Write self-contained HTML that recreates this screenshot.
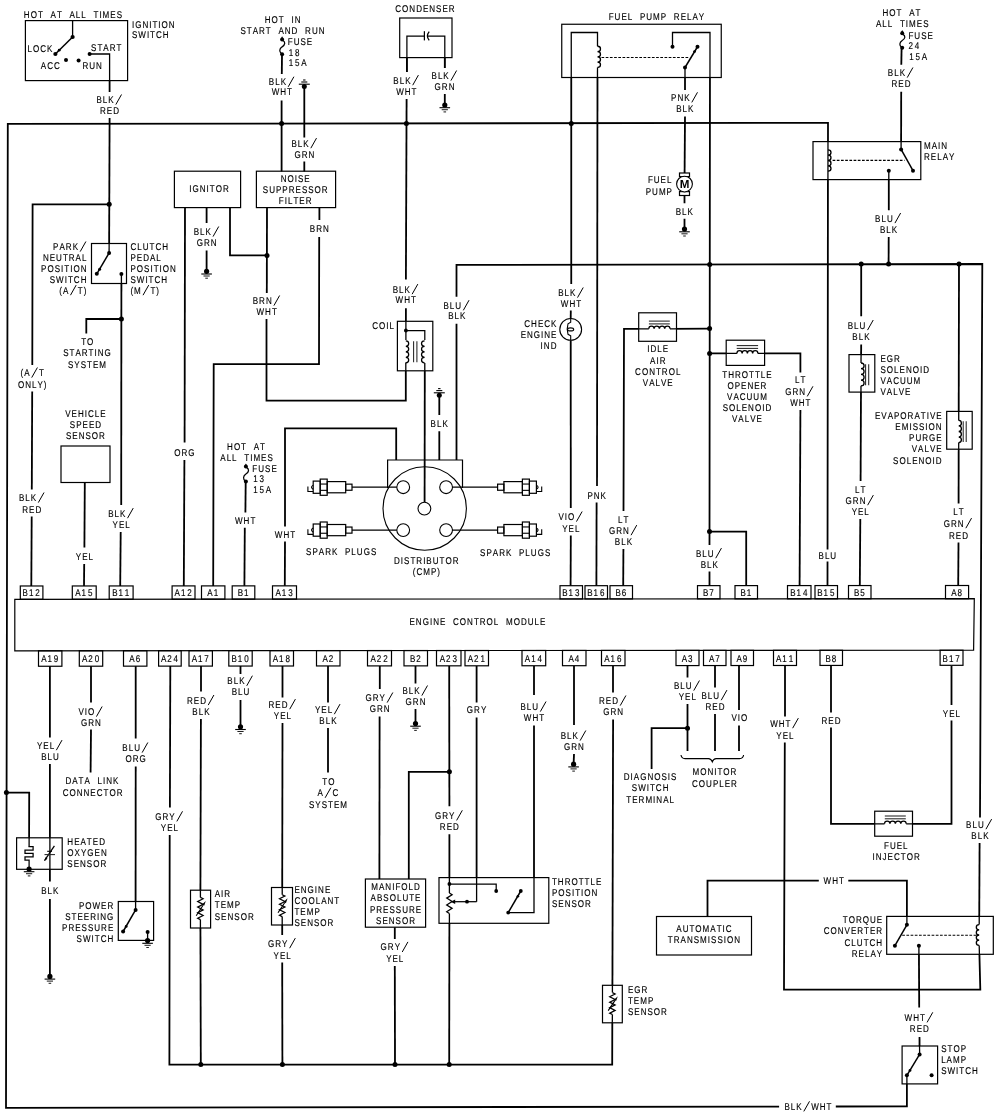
<!DOCTYPE html>
<html><head><meta charset="utf-8"><title>Engine Control Wiring Diagram</title>
<style>
html,body{margin:0;padding:0;background:#fff}
svg{display:block;will-change:transform}
text{font-family:"Liberation Sans",sans-serif;font-size:9.8px;fill:#000;stroke:#000;stroke-width:.15px;text-rendering:geometricPrecision}
.w{fill:none;stroke:#000;stroke-width:1.8;stroke-linejoin:miter;stroke-linecap:butt}
.b{fill:none;stroke:#000;stroke-width:1.2}
.t{fill:none;stroke:#000;stroke-width:1.1}
.t2{fill:none;stroke:#000;stroke-width:1.25}
.sl{fill:none;stroke:#000;stroke-width:1}
.c{fill:none;stroke:#222;stroke-width:1.05}
.a{fill:none;stroke:#000;stroke-width:1.5}
.d{fill:none;stroke:#000;stroke-width:1.1;stroke-dasharray:2.7 1.5}
circle{fill:#000}
.o{fill:#fff;stroke:#000;stroke-width:1.1}
</style></head><body>
<svg width="1000" height="1117" viewBox="0 0 1000 1117">
<rect width="1000" height="1117" fill="#fff"/>
<defs>
<clipPath id="ci"><path d="M25.4 20.6H127.6V80.6H25.4ZM174.4 171.2H240.6V207.6H174.4ZM256.4 171.2H335.6V207.6H256.4ZM399.7 18H452V57.6H399.7ZM561.75 24.25H721.25V77.5H561.75ZM813 141.6H920.8V179.6H813ZM91.5 243.5H126.5V283.5H91.5ZM61 446H110V482.5H61ZM397.4 321.3H432.8V370.8H397.4ZM638.7 312.8H676.5V341.3H638.7ZM726.2 340.2H764.6V365.4H726.2ZM849 354.6H874.8V392.1H849ZM946.7 411.4H972.2V449.2H946.7ZM20.3 585.98H42.9V599.28H20.3ZM72.3 585.96H96.2V599.25H72.3ZM109.2 585.94H133.1V599.22H109.2ZM172.1 585.9H195V599.19H172.1ZM201.5 585.89H224.9V599.17H201.5ZM232.2 585.87H254.8V599.15H232.2ZM272.5 585.85H296.5V599.12H272.5ZM560 585.7H582.5V598.94H560ZM585 585.69H607.5V598.93H585ZM610 585.68H632.5V598.91H610ZM697.5 585.63H720V598.86H697.5ZM735 585.61H757.5V598.83H735ZM787.5 585.58H811V598.8H787.5ZM815 585.57H837.5V598.78H815ZM848.5 585.55H871V598.76H848.5ZM945.5 585.5H968.6V598.7H945.5ZM14.8 599H974V650.6H14.8ZM38.5 650.77H61.9V666.25H38.5ZM79.3 650.74H102.7V666.21H79.3ZM123.5 650.72H146.9V666.16H123.5ZM158.6 650.69H181.2V666.12H158.6ZM189 650.67H212.4V666.09H189ZM228.8 650.65H252.2V666.05H228.8ZM270 650.62H293.5V666.01H270ZM316.5 650.59H340V665.96H316.5ZM367.5 650.56H391.5V665.9H367.5ZM404 650.54H427.5V665.87H404ZM436.5 650.52H461V665.83H436.5ZM465 650.5H488.5V665.8H465ZM522 650.47H545.7V665.74H522ZM562.5 650.44H586V665.7H562.5ZM601.5 650.42H625V665.66H601.5ZM676 650.37H699V665.58H676ZM703.5 650.35H726V665.56H703.5ZM731 650.34H753.5V665.53H731ZM773.5 650.31H796.5V665.48H773.5ZM820 650.28H842.5V665.43H820ZM940.1 650.21H963V665.31H940.1ZM16.6 837.8H62.2V869.3H16.6ZM118.3 901.5H153.6V940.4H118.3ZM190.5 890.2H210.6V928H190.5ZM271.5 887.5H292.5V925H271.5ZM365.4 879H425.6V927.2H365.4ZM439 877.6H548.8V923.3H439ZM602.5 985.3H622.3V1022.8H602.5ZM874.7 811.2H912.5V836.2H874.7ZM656.5 916.5H751.5V955H656.5ZM886.7 916.4H993.3V954.3H886.7ZM902.1 1046H937.6V1083.9H902.1Z"/></clipPath>
<clipPath id="co"><path clip-rule="evenodd" d="M0 0H1000V1117H0ZM25.4 20.6H127.6V80.6H25.4ZM174.4 171.2H240.6V207.6H174.4ZM256.4 171.2H335.6V207.6H256.4ZM399.7 18H452V57.6H399.7ZM561.75 24.25H721.25V77.5H561.75ZM813 141.6H920.8V179.6H813ZM91.5 243.5H126.5V283.5H91.5ZM61 446H110V482.5H61ZM397.4 321.3H432.8V370.8H397.4ZM638.7 312.8H676.5V341.3H638.7ZM726.2 340.2H764.6V365.4H726.2ZM849 354.6H874.8V392.1H849ZM946.7 411.4H972.2V449.2H946.7ZM20.3 585.98H42.9V599.28H20.3ZM72.3 585.96H96.2V599.25H72.3ZM109.2 585.94H133.1V599.22H109.2ZM172.1 585.9H195V599.19H172.1ZM201.5 585.89H224.9V599.17H201.5ZM232.2 585.87H254.8V599.15H232.2ZM272.5 585.85H296.5V599.12H272.5ZM560 585.7H582.5V598.94H560ZM585 585.69H607.5V598.93H585ZM610 585.68H632.5V598.91H610ZM697.5 585.63H720V598.86H697.5ZM735 585.61H757.5V598.83H735ZM787.5 585.58H811V598.8H787.5ZM815 585.57H837.5V598.78H815ZM848.5 585.55H871V598.76H848.5ZM945.5 585.5H968.6V598.7H945.5ZM14.8 599H974V650.6H14.8ZM38.5 650.77H61.9V666.25H38.5ZM79.3 650.74H102.7V666.21H79.3ZM123.5 650.72H146.9V666.16H123.5ZM158.6 650.69H181.2V666.12H158.6ZM189 650.67H212.4V666.09H189ZM228.8 650.65H252.2V666.05H228.8ZM270 650.62H293.5V666.01H270ZM316.5 650.59H340V665.96H316.5ZM367.5 650.56H391.5V665.9H367.5ZM404 650.54H427.5V665.87H404ZM436.5 650.52H461V665.83H436.5ZM465 650.5H488.5V665.8H465ZM522 650.47H545.7V665.74H522ZM562.5 650.44H586V665.7H562.5ZM601.5 650.42H625V665.66H601.5ZM676 650.37H699V665.58H676ZM703.5 650.35H726V665.56H703.5ZM731 650.34H753.5V665.53H731ZM773.5 650.31H796.5V665.48H773.5ZM820 650.28H842.5V665.43H820ZM940.1 650.21H963V665.31H940.1ZM16.6 837.8H62.2V869.3H16.6ZM118.3 901.5H153.6V940.4H118.3ZM190.5 890.2H210.6V928H190.5ZM271.5 887.5H292.5V925H271.5ZM365.4 879H425.6V927.2H365.4ZM439 877.6H548.8V923.3H439ZM602.5 985.3H622.3V1022.8H602.5ZM874.7 811.2H912.5V836.2H874.7ZM656.5 916.5H751.5V955H656.5ZM886.7 916.4H993.3V954.3H886.7ZM902.1 1046H937.6V1083.9H902.1Z"/></clipPath>
<g id="wr">
<path d="M779.2 1106.6L6 1107.8L7.8 123.9L828 122.8L827.5 586"/>
<path d="M72.6 20.6L72.6 37"/>
<path d="M89.6 54L109.6 54L109.6 92"/>
<path d="M109.6 118L109.1 253"/>
<path d="M109.4 204.4L32.6 204.4L32.3 365"/>
<path d="M32.2 391.5L31.8 489.5"/>
<path d="M31.7 516.5L31.3 586"/>
<path d="M282 54.2L281.8 74"/>
<path d="M281.6 100.5L281.6 171.5"/>
<path d="M304.3 86.6L304.3 137.5"/>
<path d="M304.3 161.5L304.3 171.5"/>
<path d="M185 207.5L184.6 442.5"/>
<path d="M184.4 460L183.8 586"/>
<path d="M206.6 207.5L206.6 223"/>
<path d="M206.6 250.4L206.6 271.3"/>
<path d="M230 207.5L230 255.4L267 255.4"/>
<path d="M267 207.5L266.8 293"/>
<path d="M266.5 319L266.5 400.7L405.8 400.7L405.8 362.4"/>
<path d="M319.4 207.5L319.4 220"/>
<path d="M319.2 237L319 364.2L213.7 364.2L213.2 586"/>
<path d="M406.9 57.6L406.9 72"/>
<path d="M444.8 57.6L444.8 68"/>
<path d="M406.6 99L405.9 279.4"/>
<path d="M444.8 94L444.8 105"/>
<path d="M405.9 308.2L405.9 340"/>
<path d="M571.25 284L571.25 32.5L597.5 32.5L597.5 46.25"/>
<path d="M597.5 46.25c3.99 0 3.99 5.31 0 5.31c3.99 0 3.99 5.31 0 5.31c3.99 0 3.99 5.31 0 5.31c3.99 0 3.99 5.31 0 5.31"/>
<path d="M597.5 67.5L597 486"/>
<path d="M596.6 502.5L596.4 586"/>
<path d="M672.5 46.75L672.5 32.5L710 32.5L709.5 545"/>
<path d="M685 67.5L685 90"/>
<path d="M685 116.5L684.6 173"/>
<path d="M684.5 195.5L684.5 203.3"/>
<path d="M684.5 218.7L684.5 229.1"/>
<path d="M901.6 47.7L901.3 64.8"/>
<path d="M901.2 91.7L901.1 149.4"/>
<path d="M828 149.9c3.99 0 3.99 5.3 0 5.3c3.99 0 3.99 5.3 0 5.3c3.99 0 3.99 5.3 0 5.3c3.99 0 3.99 5.3 0 5.3"/>
<path d="M888.8 170.7L888.8 210.3"/>
<path d="M888.7 237L888.6 264"/>
<path d="M456.5 296.7L456.5 264.9L982.3 264L980 817.5"/>
<path d="M121.4 274L121.2 505"/>
<path d="M121.4 319L86.3 319L86.3 333.5"/>
<path d="M120.7 532L120.2 586"/>
<path d="M84.8 482.5L84.4 547.5"/>
<path d="M84.2 564L84 586"/>
<path d="M245.7 481.5L245.4 512.5"/>
<path d="M244.8 527.8L244.4 586"/>
<path d="M285 526.5L285 428.4L396.2 428.4L396.2 460"/>
<path d="M285 541.5L284.8 586"/>
<path d="M424.8 363L424.6 502"/>
<path d="M439.3 395.2L439.3 415"/>
<path d="M439.3 431.2L439.3 460"/>
<path d="M456.5 323.8L456.5 460"/>
<path d="M570.8 310.5L570.7 318.3"/>
<path d="M570.7 340.6L570.8 508"/>
<path d="M570.8 535.5L570.6 586"/>
<path d="M623.5 511L624 328.8L648.8 328.8"/>
<path d="M648.8 328.8c0 -3.59 5.3 -3.59 5.3 0c0 -3.59 5.3 -3.59 5.3 0c0 -3.59 5.3 -3.59 5.3 0c0 -3.59 5.3 -3.59 5.3 0"/>
<path d="M670 328.8L709.6 328.6"/>
<path d="M623.4 549L623.2 586"/>
<path d="M709.6 353.4L736.9 353.4"/>
<path d="M736.9 353.4c0 -3.59 5.25 -3.59 5.25 0c0 -3.59 5.25 -3.59 5.25 0c0 -3.59 5.25 -3.59 5.25 0c0 -3.59 5.25 -3.59 5.25 0"/>
<path d="M757.9 353.4L800.4 353.4L800.4 372.5"/>
<path d="M800.4 410L799.6 586"/>
<path d="M709.5 531.6L746.2 531.6L746.2 586"/>
<path d="M709.5 571.5L709.5 586"/>
<path d="M861.2 264L861.2 316.3"/>
<path d="M861.2 344.5L861 363"/>
<path d="M861 363c4.12 0 4.12 5.7 0 5.7c4.12 0 4.12 5.7 0 5.7c4.12 0 4.12 5.7 0 5.7c4.12 0 4.12 5.7 0 5.7"/>
<path d="M861 385.8L860.6 481"/>
<path d="M860.3 519L859.8 586"/>
<path d="M959 264L958.7 420.4"/>
<path d="M958.7 420.4c3.59 0 3.59 5.55 0 5.55c3.59 0 3.59 5.55 0 5.55c3.59 0 3.59 5.55 0 5.55c3.59 0 3.59 5.55 0 5.55"/>
<path d="M958.7 442.6L958.6 503.5"/>
<path d="M958.5 542.5L958.2 586"/>
<path d="M49.9 666L49.9 737.5"/>
<path d="M49.9 764L49.9 881.5"/>
<path d="M6.4 792.6L29.2 792.6L29.1 846.5"/>
<path d="M49.9 899L49.9 976.4"/>
<path d="M91 666L91 702.5"/>
<path d="M91 729.5L90.6 772.4"/>
<path d="M135.7 666L135.7 738.5"/>
<path d="M135.7 766.5L135.6 909.9"/>
<path d="M147.6 932L147.6 940.4"/>
<path d="M170.3 666L169.9 807.5"/>
<path d="M169.7 835L169.4 1064.6L612.2 1064.6L612.3 1022.5"/>
<path d="M201 666L201 691.5"/>
<path d="M200.9 719L200.4 897.4"/>
<path d="M200.4 919.6L200.8 1064.6"/>
<path d="M240.5 666L240.5 674"/>
<path d="M240.5 700L240.5 726.8"/>
<path d="M282.5 666L282.5 697.5"/>
<path d="M282.5 723L282.2 894.7"/>
<path d="M282.2 916.6L282.2 935"/>
<path d="M282.2 962.5L282.4 1064.6"/>
<path d="M328 666L328 702.5"/>
<path d="M328 728L328 772.5"/>
<path d="M379.8 666L379.8 689"/>
<path d="M379.6 716.5L379.4 879"/>
<path d="M394.8 927.2L394.8 939"/>
<path d="M394.8 966L395 1064.6"/>
<path d="M415.5 666L415.5 683.5"/>
<path d="M415.5 709L415.5 723.5"/>
<path d="M449.2 666L449.4 806.2"/>
<path d="M449.4 771.8L408.8 771.8L408.8 879"/>
<path d="M449.4 834.2L449.4 893"/>
<path d="M449.4 913.5L449.2 1064.6"/>
<path d="M476.6 666L476.6 702.5"/>
<path d="M476.6 717.5L476.6 901.7"/>
<path d="M534 666L534 695"/>
<path d="M534 725.5L534 912.6L508.2 912.6"/>
<path d="M574 666L574 725"/>
<path d="M574 754L573.6 764.2"/>
<path d="M613 666L613 692.5"/>
<path d="M613.1 719.5L612.4 992.6"/>
<path d="M612.4 1014.5L612.3 1023"/>
<path d="M687.5 666L687.5 677.5"/>
<path d="M687.5 704L687.5 751"/>
<path d="M687.5 728.2L651.6 728.2L651.6 769"/>
<path d="M715 666L715 687.5"/>
<path d="M715 714L715 751"/>
<path d="M739 666L739 710"/>
<path d="M739 725.5L739 751"/>
<path d="M785 666L785 716.5"/>
<path d="M784.8 742.5L784 989.6L980.3 989.6L979.2 945.4"/>
<path d="M831 666L831 712.5"/>
<path d="M831 727.5L831 823.8L884.5 823.8"/>
<path d="M884.5 823.8c0 -3.59 5.43 -3.59 5.43 0c0 -3.59 5.43 -3.59 5.43 0c0 -3.59 5.43 -3.59 5.43 0c0 -3.59 5.43 -3.59 5.43 0"/>
<path d="M906.2 823.8L951.5 823.8L951.5 720.5"/>
<path d="M951.5 666L951.5 705"/>
<path d="M979.6 843L979.2 924.6"/>
<path d="M979.2 924.6c-3.86 0 -3.86 5.2 0 5.2c-3.86 0 -3.86 5.2 0 5.2c-3.86 0 -3.86 5.2 0 5.2c-3.86 0 -3.86 5.2 0 5.2"/>
<path d="M707.5 916.5L707.5 880.6L818.8 880.6"/>
<path d="M848.3 880.6L906.9 880.6L906.9 924.8"/>
<path d="M918.9 945.7L919.2 1007.6"/>
<path d="M919.5 1037L919.6 1054.4"/>
<path d="M906.9 1075.3L906.9 1106.4L835.6 1106.5"/>
</g>
</defs>
<g class="w" clip-path="url(#co)"><use href="#wr"/></g>
<g class="w" style="stroke-width:1.3" clip-path="url(#ci)"><use href="#wr"/></g>
<circle cx="6.4" cy="792.5" r="2.5"/>
<text transform="translate(23.86 17.5) scale(0.82 1)" x="0 8.3 17.14 32.52 40.27 55.65 63.4 70.07 84.91 92.12 96.06 105.45 113.2">HOTATALLTIMES</text>
<rect class="b" x="25.4" y="20.6" width="102.2" height="60"/>
<text transform="translate(131.95 27.7) scale(0.82 1)" x="0 3.94 12.78 21.08 25.02 32.23 36.17 45.01">IGNITION</text>
<text transform="translate(131.95 38.2) scale(0.82 1)" x="0 7.76 18.23 22.17 29.37 37.67">SWITCH</text>
<circle cx="72.6" cy="37" r="2.1"/>
<path class="a" d="M72.6 37L55.4 54"/>
<circle cx="55.4" cy="54" r="2.1"/>
<circle cx="59.2" cy="50.2" r="1.4"/>
<circle cx="66" cy="60" r="2"/>
<circle cx="78.6" cy="60.4" r="2"/>
<circle cx="89.6" cy="54" r="2"/>
<text transform="translate(27.45 52.4) scale(0.82 1)" x="0 6.67 15.51 23.81">LOCK</text>
<text transform="translate(91.05 51) scale(0.82 1)" x="0 7.76 14.96 22.72 31.01">START</text>
<text transform="translate(40.85 68.6) scale(0.82 1)" x="0 7.76 16.05">ACC</text>
<text transform="translate(82.45 69) scale(0.82 1)" x="0 8.3 16.59">RUN</text>
<path class="sl" d="M115.82 104.6L121.52 94.5"/>
<text transform="translate(96.43 103) scale(0.82 1)" x="0 7.76 14.43">BLK</text>
<text transform="translate(99.97 113.8) scale(0.82 1)" x="0 8.3 16.05">RED</text>
<circle cx="109.2" cy="204.3" r="2.5"/>
<path class="sl" d="M31.71 377.6L37.41 367.5"/>
<text transform="translate(20.48 376) scale(0.82 1)" x="0 4.48 22.73">(AT</text>
<text transform="translate(17.97 387.5) scale(0.82 1)" x="0 8.84 17.14 23.81 31.56">ONLY)</text>
<path class="sl" d="M38.32 502.6L44.02 492.5"/>
<text transform="translate(18.93 501) scale(0.82 1)" x="0 7.76 14.43">BLK</text>
<text transform="translate(22.27 512.5) scale(0.82 1)" x="0 8.3 16.05">RED</text>
<text transform="translate(264.8 22.6) scale(0.82 1)" x="0 8.3 17.14 32.52 36.46">HOTIN</text>
<text transform="translate(240.39 33.6) scale(0.82 1)" x="0 7.76 14.96 22.72 31.01 46.39 54.15 62.44 78.91 87.21 95.51">STARTANDRUN</text>
<circle cx="282.1" cy="39.4" r="2"/>
<circle cx="282.1" cy="54.2" r="2"/>
<path d="M280.9 38.4L282.1 36.2L283.3 38.4z"/>
<path class="t2" d="M282.7 40.2c3 1.78 2.6 4.59 -0.6 6.66c-3 2.07 -3 4.88 -0.6 6.96"/>
<text transform="translate(287.75 45.1) scale(0.82 1)" x="0 7.21 15.5 23.26">FUSE</text>
<text transform="translate(288.65 56) scale(0.82 1)" x="0 7.65">18</text>
<text transform="translate(288.65 66.1) scale(0.82 1)" x="0 7.65 15.3">15A</text>
<path class="sl" d="M288.22 86.8L293.92 76.7"/>
<text transform="translate(268.83 85.2) scale(0.82 1)" x="0 7.76 14.43">BLK</text>
<text transform="translate(271.7 95.4) scale(0.82 1)" x="0 10.47 18.77">WHT</text>
<circle cx="281.6" cy="123.5" r="2.5"/>
<circle cx="304.3" cy="86.6" r="2.5"/>
<path class="t" d="M298.8 84.2L309.8 84.2"/>
<path class="t" d="M301.3 82L307.3 82"/>
<path class="t" d="M303.1 80L305.5 80"/>
<path class="sl" d="M310.82 148.2L316.52 138.1"/>
<text transform="translate(291.43 146.6) scale(0.82 1)" x="0 7.76 14.43">BLK</text>
<text transform="translate(294.52 157.6) scale(0.82 1)" x="0 8.84 17.14">GRN</text>
<rect class="b" x="174.4" y="171.2" width="66.2" height="36.4"/>
<text transform="translate(189.21 192.4) scale(0.82 1)" x="0 3.94 12.78 21.08 25.02 32.23 41.07">IGNITOR</text>
<rect class="b" x="256.4" y="171.2" width="79.2" height="36.4"/>
<text transform="translate(280.65 182) scale(0.82 1)" x="0 8.3 17.14 21.08 28.84">NOISE</text>
<text transform="translate(262.84 193) scale(0.82 1)" x="0 7.76 16.05 23.81 31.57 39.86 47.62 55.37 63.13 71.97">SUPPRESSOR</text>
<text transform="translate(278.81 203.7) scale(0.82 1)" x="0 7.21 11.15 17.82 25.02 32.78">FILTER</text>
<text transform="translate(174.3 456) scale(0.82 1)" x="0 8.84 17.14">ORG</text>
<path class="sl" d="M213.02 236.6L218.72 226.5"/>
<text transform="translate(193.63 235) scale(0.82 1)" x="0 7.76 14.43">BLK</text>
<text transform="translate(196.82 246) scale(0.82 1)" x="0 8.84 17.14">GRN</text>
<circle cx="206.6" cy="271.3" r="2.6"/>
<path class="t" d="M201.3 274L211.9 274"/>
<path class="c" d="M203.5 276L209.7 276"/>
<path class="c" d="M205.3 278.2L207.9 278.2"/>
<circle cx="267" cy="255.4" r="2.5"/>
<path class="sl" d="M273.91 305.6L279.61 295.5"/>
<text transform="translate(252.74 304) scale(0.82 1)" x="0 7.76 16.05">BRN</text>
<text transform="translate(256.5 315) scale(0.82 1)" x="0 10.47 18.77">WHT</text>
<text transform="translate(309.87 231.7) scale(0.82 1)" x="0 7.76 16.05">BRN</text>
<text transform="translate(395.28 11.6) scale(0.82 1)" x="0 8.3 17.14 25.44 33.73 41.49 49.79 57.54 65.3">CONDENSER</text>
<rect class="b" x="399.7" y="18" width="52.3" height="39.6"/>
<path class="t2" d="M406.9 72L406.9 36L424 36"/>
<path class="t2" d="M424.4 31.2L424.4 40.4"/>
<path class="t2" d="M429.2 31.6Q425.6 36 429.2 40.4"/>
<path class="t2" d="M427.5 36L444.8 36L444.8 68"/>
<path class="sl" d="M412.72 85.2L418.42 75.1"/>
<text transform="translate(393.33 83.6) scale(0.82 1)" x="0 7.76 14.43">BLK</text>
<text transform="translate(396.2 95) scale(0.82 1)" x="0 10.47 18.77">WHT</text>
<circle cx="406.4" cy="123.4" r="2.5"/>
<path class="sl" d="M450.92 80.6L456.62 70.5"/>
<text transform="translate(431.53 79) scale(0.82 1)" x="0 7.76 14.43">BLK</text>
<text transform="translate(434.62 90) scale(0.82 1)" x="0 8.84 17.14">GRN</text>
<circle cx="444.8" cy="105" r="2.6"/>
<path class="t" d="M439.5 107.7L450.1 107.7"/>
<path class="c" d="M441.7 109.7L447.9 109.7"/>
<path class="c" d="M443.5 111.9L446.1 111.9"/>
<path class="sl" d="M412.12 294.2L417.82 284.1"/>
<text transform="translate(392.73 292.6) scale(0.82 1)" x="0 7.76 14.43">BLK</text>
<text transform="translate(395.6 303.2) scale(0.82 1)" x="0 10.47 18.77">WHT</text>
<text transform="translate(608.69 19.5) scale(0.82 1)" x="0 7.21 15.5 23.26 38.1 45.86 54.15 63.54 79.46 87.76 95.51 102.18 109.94">FUELPUMPRELAY</text>
<rect class="b" x="561.75" y="24.25" width="159.5" height="53.25"/>
<text transform="translate(587.39 498.6) scale(0.82 1)" x="0 7.76 16.05">PNK</text>
<circle cx="571.25" cy="123.4" r="2.5"/>
<path class="d" d="M601.5 57.5L688.5 57.5"/>
<circle cx="672.5" cy="46.75" r="2"/>
<circle cx="697.5" cy="46.75" r="2"/>
<path class="a" d="M697.5 46.75L685 67.5"/>
<circle cx="685" cy="67.5" r="2"/>
<circle cx="694.6" cy="51.6" r="1.4"/>
<path class="sl" d="M691.79 102.4L697.49 92.3"/>
<text transform="translate(671.06 100.8) scale(0.82 1)" x="0 7.76 16.05">PNK</text>
<text transform="translate(676.16 112) scale(0.82 1)" x="0 7.76 14.43">BLK</text>
<rect class="b" x="679.5" y="173" width="10" height="3.6"/>
<rect class="b" x="679.5" y="191.6" width="10" height="3.9"/>
<circle class="o" cx="684.5" cy="184.1" r="7.9"/>
<text x="684.5" y="188.2" text-anchor="middle" style="font-size:11.6px;font-weight:bold;stroke:none">M</text>
<text transform="translate(647.91 183.3) scale(0.82 1)" x="0 7.21 15.5 23.26">FUEL</text>
<text transform="translate(645.73 194.5) scale(0.82 1)" x="0 7.76 16.05 25.44">PUMP</text>
<text transform="translate(675.76 215) scale(0.82 1)" x="0 7.76 14.43">BLK</text>
<circle cx="684.5" cy="229.1" r="2.6"/>
<path class="t" d="M679.2 231.8L689.8 231.8"/>
<path class="c" d="M681.4 233.8L687.6 233.8"/>
<path class="c" d="M683.2 236L685.8 236"/>
<text transform="translate(882.48 16.2) scale(0.82 1)" x="0 8.3 17.14 32.52 40.27">HOTAT</text>
<text transform="translate(875.97 27.3) scale(0.82 1)" x="0 7.76 14.43 29.27 36.47 40.41 49.8 57.55">ALLTIMES</text>
<circle cx="902.2" cy="33.3" r="2"/>
<circle cx="902.2" cy="47.7" r="2"/>
<path d="M901 32.3L902.2 30.1L903.4 32.3z"/>
<path class="t2" d="M902.8 34.1c3 1.73 2.6 4.46 -0.6 6.48c-3 2.02 -3 4.75 -0.6 6.77"/>
<text transform="translate(908.45 38.6) scale(0.82 1)" x="0 7.21 15.5 23.26">FUSE</text>
<text transform="translate(908.45 49.3) scale(0.82 1)" x="0 7.65">24</text>
<text transform="translate(909.15 59.8) scale(0.82 1)" x="0 7.65 15.3">15A</text>
<path class="sl" d="M907.22 77.6L912.92 67.5"/>
<text transform="translate(887.83 76) scale(0.82 1)" x="0 7.76 14.43">BLK</text>
<text transform="translate(891.47 87.2) scale(0.82 1)" x="0 8.3 16.05">RED</text>
<circle cx="901.1" cy="149.4" r="2"/>
<rect class="b" x="813" y="141.6" width="107.8" height="38"/>
<path class="d" d="M832.6 160.4L904.5 160.4"/>
<path class="a" d="M901.1 149.4L913 170.7"/>
<circle cx="913" cy="170.7" r="2"/>
<circle cx="888.8" cy="170.7" r="2"/>
<path class="sl" d="M894.94 223.1L900.64 213"/>
<text transform="translate(875.11 221.5) scale(0.82 1)" x="0 7.76 14.43">BLU</text>
<text transform="translate(879.96 232.7) scale(0.82 1)" x="0 7.76 14.43">BLK</text>
<text transform="translate(924.05 148.8) scale(0.82 1)" x="0 9.38 17.14 21.08">MAIN</text>
<text transform="translate(924.05 160) scale(0.82 1)" x="0 8.3 16.05 22.72 30.48">RELAY</text>
<circle cx="709.7" cy="264.4" r="2.5"/>
<circle cx="861.2" cy="264.1" r="2.5"/>
<circle cx="888.6" cy="264.1" r="2.5"/>
<circle cx="959" cy="264" r="2.5"/>
<rect class="b" x="91.5" y="243.5" width="35" height="40"/>
<circle cx="109.1" cy="253" r="2"/>
<path class="a" d="M109.1 253L96.8 273.8"/>
<circle cx="96.8" cy="273.8" r="2"/>
<circle cx="99.6" cy="269.2" r="1.5"/>
<circle cx="121.4" cy="274" r="2"/>
<path class="sl" d="M80.2 251.6L85.9 241.5"/>
<text transform="translate(53.12 250) scale(0.82 1)" x="0 7.76 15.51 23.81">PARK</text>
<text transform="translate(42.94 260.9) scale(0.82 1)" x="0 8.3 16.05 24.35 31.56 39.85 47.61">NEUTRAL</text>
<text transform="translate(41.05 271.8) scale(0.82 1)" x="0 7.76 16.6 24.35 28.3 35.5 39.44 48.29">POSITION</text>
<text transform="translate(49.76 282.7) scale(0.82 1)" x="0 7.76 18.23 22.17 29.37 37.67">SWITCH</text>
<path class="sl" d="M70.47 295.2L76.17 285.1"/>
<text transform="translate(59.23 293.6) scale(0.82 1)" x="0 4.48 22.73 29.93">(AT)</text>
<text transform="translate(130.45 250) scale(0.82 1)" x="0 8.3 14.97 23.26 30.47 38.77">CLUTCH</text>
<text transform="translate(130.45 260.9) scale(0.82 1)" x="0 7.76 15.51 23.81 31.57">PEDAL</text>
<text transform="translate(130.45 271.8) scale(0.82 1)" x="0 7.76 16.6 24.35 28.3 35.5 39.44 48.29">POSITION</text>
<text transform="translate(130.45 282.7) scale(0.82 1)" x="0 7.76 18.23 22.17 29.37 37.67">SWITCH</text>
<path class="sl" d="M143.02 295.2L148.72 285.1"/>
<text transform="translate(130.45 293.6) scale(0.82 1)" x="0 4.48 24.35 31.56">(MT)</text>
<circle cx="121.4" cy="319" r="2.5"/>
<text transform="translate(81.17 345) scale(0.82 1)" x="0 7.21">TO</text>
<text transform="translate(63.14 356) scale(0.82 1)" x="0 7.76 14.96 22.72 31.01 38.22 42.16 50.46">STARTING</text>
<text transform="translate(67.93 367.5) scale(0.82 1)" x="0 7.76 15.51 23.27 30.47 38.23">SYSTEM</text>
<path class="sl" d="M127.52 518.2L133.22 508.1"/>
<text transform="translate(108.13 516.6) scale(0.82 1)" x="0 7.76 14.43">BLK</text>
<text transform="translate(112.56 527.8) scale(0.82 1)" x="0 7.76 15.51">YEL</text>
<text transform="translate(65.26 416.6) scale(0.82 1)" x="0 7.76 15.51 23.81 27.75 36.05 42.72">VEHICLE</text>
<text transform="translate(69.83 427.6) scale(0.82 1)" x="0 7.76 15.51 23.27 31.02">SPEED</text>
<text transform="translate(65.98 439) scale(0.82 1)" x="0 7.76 15.51 23.81 31.57 40.41">SENSOR</text>
<rect class="b" x="61" y="446" width="49" height="36.5"/>
<text transform="translate(75.86 560) scale(0.82 1)" x="0 7.76 15.51">YEL</text>
<text transform="translate(227.08 449.5) scale(0.82 1)" x="0 8.3 17.14 32.52 40.27">HOTAT</text>
<text transform="translate(220.27 460.8) scale(0.82 1)" x="0 7.76 14.43 29.27 36.47 40.41 49.8 57.55">ALLTIMES</text>
<circle cx="245.9" cy="466.6" r="2"/>
<circle cx="245.9" cy="481.5" r="2"/>
<path d="M244.7 465.6L245.9 463.4L247.1 465.6z"/>
<path class="t2" d="M246.5 467.4c3 1.79 2.6 4.62 -0.6 6.7c-3 2.09 -3 4.92 -0.6 7"/>
<text transform="translate(252.35 472.3) scale(0.82 1)" x="0 7.21 15.5 23.26">FUSE</text>
<text transform="translate(253.15 482.1) scale(0.82 1)" x="0 7.65">13</text>
<text transform="translate(253.15 493.3) scale(0.82 1)" x="0 7.65 15.3">15A</text>
<text transform="translate(235 524) scale(0.82 1)" x="0 10.47 18.77">WHT</text>
<text transform="translate(274.8 537.6) scale(0.82 1)" x="0 10.47 18.77">WHT</text>
<rect class="b" x="397.4" y="321.3" width="35.4" height="49.5"/>
<text transform="translate(372.29 328.7) scale(0.82 1)" x="0 8.3 17.14 21.08">COIL</text>
<circle cx="405.9" cy="330.5" r="1.9"/>
<path class="t2" d="M405.9 330.5L424.8 330.5L424.8 340"/>
<path class="t2" d="M405.8 340.8c3.86 0 3.86 5.5 0 5.5c3.86 0 3.86 5.5 0 5.5c3.86 0 3.86 5.5 0 5.5c3.86 0 3.86 5.5 0 5.5"/>
<path class="t2" d="M424.6 340.8c-4.12 0 -4.12 5.5 0 5.5c-4.12 0 -4.12 5.5 0 5.5c-4.12 0 -4.12 5.5 0 5.5c-4.12 0 -4.12 5.5 0 5.5"/>
<path class="c" d="M413.6 341.3L413.6 362.3"/>
<path class="c" d="M416.9 341.3L416.9 362.3"/>
<circle cx="439.3" cy="395.2" r="2.5"/>
<path class="t" d="M433.8 392.8L444.8 392.8"/>
<path class="t" d="M436.3 390.6L442.3 390.6"/>
<path class="t" d="M438.1 388.6L440.5 388.6"/>
<text transform="translate(430.56 426.7) scale(0.82 1)" x="0 7.76 14.43">BLK</text>
<path class="sl" d="M463.34 310.3L469.04 300.2"/>
<text transform="translate(443.51 308.7) scale(0.82 1)" x="0 7.76 14.43">BLU</text>
<text transform="translate(448.16 319.3) scale(0.82 1)" x="0 7.76 14.43">BLK</text>
<path class="b" d="M387.6 488L387.6 460L462.5 460L462.5 488"/>
<circle class="o" cx="424.7" cy="508.5" r="41.7" style="fill:none"/>
<circle class="o" cx="403.2" cy="487.2" r="6.4" style="fill:none"/>
<circle class="o" cx="446.1" cy="487.2" r="6.4" style="fill:none"/>
<circle class="o" cx="403.2" cy="530.1" r="6.4" style="fill:none"/>
<circle class="o" cx="446.1" cy="530.1" r="6.4" style="fill:none"/>
<circle class="o" cx="424.4" cy="508.6" r="6.4" style="fill:none"/>
<path class="t2" d="M396.8 487.2L352 487.2"/>
<rect class="b" x="345.7" y="484.15" width="6.3" height="6.1"/>
<rect class="b" x="327.2" y="481.6" width="18.5" height="11.2"/>
<rect class="b" x="320.2" y="479.1" width="7" height="16.2"/>
<path class="t" d="M327.2 484.05L320.2 484.05"/>
<path class="t" d="M327.2 490.35L320.2 490.35"/>
<rect class="b" x="313.2" y="481.1" width="7" height="12.2"/>
<path class="t" d="M313.2 491.5L307.9 491.5L307.9 486.4"/>
<path class="t" d="M313.2 485.1Q309.8 487.2 313.2 489.3"/>
<path class="t2" d="M452.5 487.2L497.6 487.2"/>
<rect class="b" x="497.6" y="484.15" width="6.3" height="6.1"/>
<rect class="b" x="503.9" y="481.6" width="18.5" height="11.2"/>
<rect class="b" x="522.4" y="479.1" width="7" height="16.2"/>
<path class="t" d="M522.4 484.05L529.4 484.05"/>
<path class="t" d="M522.4 490.35L529.4 490.35"/>
<rect class="b" x="529.4" y="481.1" width="7" height="12.2"/>
<path class="t" d="M536.4 491.5L541.7 491.5L541.7 486.4"/>
<path class="t" d="M536.4 485.1Q539.8 487.2 536.4 489.3"/>
<path class="t2" d="M396.8 530.1L352 530.1"/>
<rect class="b" x="345.7" y="527.05" width="6.3" height="6.1"/>
<rect class="b" x="327.2" y="524.5" width="18.5" height="11.2"/>
<rect class="b" x="320.2" y="522" width="7" height="16.2"/>
<path class="t" d="M327.2 526.95L320.2 526.95"/>
<path class="t" d="M327.2 533.25L320.2 533.25"/>
<rect class="b" x="313.2" y="524" width="7" height="12.2"/>
<path class="t" d="M313.2 534.4L307.9 534.4L307.9 529.3"/>
<path class="t" d="M313.2 528Q309.8 530.1 313.2 532.2"/>
<path class="t2" d="M452.5 530.1L497.6 530.1"/>
<rect class="b" x="497.6" y="527.05" width="6.3" height="6.1"/>
<rect class="b" x="503.9" y="524.5" width="18.5" height="11.2"/>
<rect class="b" x="522.4" y="522" width="7" height="16.2"/>
<path class="t" d="M522.4 526.95L529.4 526.95"/>
<path class="t" d="M522.4 533.25L529.4 533.25"/>
<rect class="b" x="529.4" y="524" width="7" height="12.2"/>
<path class="t" d="M536.4 534.4L541.7 534.4L541.7 529.3"/>
<path class="t" d="M536.4 528Q539.8 530.1 536.4 532.2"/>
<text transform="translate(306.06 555) scale(0.82 1)" x="0 7.76 15.51 23.27 31.57 47.49 55.25 61.92 70.21 79.06">SPARKPLUGS</text>
<text transform="translate(480.06 555.6) scale(0.82 1)" x="0 7.76 15.51 23.27 31.57 47.49 55.25 61.92 70.21 79.06">SPARKPLUGS</text>
<text transform="translate(394.02 564) scale(0.82 1)" x="0 8.3 12.24 20 27.2 35.5 39.44 47.2 55.49 62.7 71.54">DISTRIBUTOR</text>
<text transform="translate(412.85 575.2) scale(0.82 1)" x="0 4.48 12.78 22.16 29.92">(CMP)</text>
<path class="sl" d="M577.52 297.6L583.22 287.5"/>
<text transform="translate(558.13 296) scale(0.82 1)" x="0 7.76 14.43">BLK</text>
<text transform="translate(560.8 306.7) scale(0.82 1)" x="0 10.47 18.77">WHT</text>
<circle class="o" cx="570.7" cy="329.4" r="10.9" style="fill:none"/>
<path class="t" d="M570.7 318.3V322.3L568 323.9Q566.3 329.3 568 334.3L570.7 335.9V340.6"/><ellipse class="t" cx="570.6" cy="329.4" rx="3.1" ry="1.5"/>
<text transform="translate(524.32 326.8) scale(0.82 1)" x="0 8.3 16.59 24.35 32.65">CHECK</text>
<text transform="translate(520.64 337.75) scale(0.82 1)" x="0 7.76 16.05 24.9 28.84 37.13">ENGINE</text>
<text transform="translate(540.61 348.7) scale(0.82 1)" x="0 3.94 12.24">IND</text>
<path class="sl" d="M576.45 521.6L582.15 511.5"/>
<text transform="translate(558.4 520) scale(0.82 1)" x="0 7.76 11.7">VIO</text>
<text transform="translate(562.26 531.5) scale(0.82 1)" x="0 7.76 15.51">YEL</text>
<rect class="b" x="638.7" y="312.8" width="37.8" height="28.5"/>
<path class="c" d="M648.9 321.1L669.8 321.1"/>
<path class="c" d="M648.9 323.9L669.8 323.9"/>
<circle cx="709.6" cy="328.5" r="2.5"/>
<circle cx="709.6" cy="353.4" r="2.5"/>
<text transform="translate(647.32 352.3) scale(0.82 1)" x="0 3.94 12.24 18.91">IDLE</text>
<text transform="translate(650.05 363.5) scale(0.82 1)" x="0 7.76 11.7">AIR</text>
<text transform="translate(635.11 374.7) scale(0.82 1)" x="0 8.3 17.14 25.44 32.64 40.94 49.78">CONTROL</text>
<text transform="translate(642.8 385.9) scale(0.82 1)" x="0 7.76 15.51 22.18 29.94">VALVE</text>
<text transform="translate(618.06 522.6) scale(0.82 1)" x="0 6.67">LT</text>
<path class="sl" d="M631.05 535.2L636.75 525.1"/>
<text transform="translate(609 533.6) scale(0.82 1)" x="0 8.84 17.14">GRN</text>
<text transform="translate(614.86 545) scale(0.82 1)" x="0 7.76 14.43">BLK</text>
<rect class="b" x="726.2" y="340.2" width="38.4" height="25.2"/>
<path class="c" d="M736.7 345.6L758.1 345.6"/>
<path class="c" d="M736.7 348.4L758.1 348.4"/>
<text transform="translate(722.24 378) scale(0.82 1)" x="0 7.21 15.5 23.8 32.64 39.85 47.05 53.72">THROTTLE</text>
<text transform="translate(727.48 389.1) scale(0.82 1)" x="0 8.84 16.6 24.35 32.65 40.41">OPENER</text>
<text transform="translate(727.04 400.2) scale(0.82 1)" x="0 7.76 15.51 23.81 32.11 40.4">VACUUM</text>
<text transform="translate(722.69 411.3) scale(0.82 1)" x="0 7.76 16.6 23.27 31.02 39.32 48.16 52.11">SOLENOID</text>
<text transform="translate(732 422.4) scale(0.82 1)" x="0 7.76 15.51 22.18 29.94">VALVE</text>
<text transform="translate(794.96 383.2) scale(0.82 1)" x="0 6.67">LT</text>
<path class="sl" d="M807.25 396.4L812.95 386.3"/>
<text transform="translate(785.2 394.8) scale(0.82 1)" x="0 8.84 17.14">GRN</text>
<text transform="translate(790.2 405.6) scale(0.82 1)" x="0 10.47 18.77">WHT</text>
<circle cx="709.5" cy="531.6" r="2.5"/>
<path class="sl" d="M715.74 558.2L721.44 548.1"/>
<text transform="translate(695.91 556.6) scale(0.82 1)" x="0 7.76 14.43">BLU</text>
<text transform="translate(700.66 567.7) scale(0.82 1)" x="0 7.76 14.43">BLK</text>
<text transform="translate(818.53 559) scale(0.82 1)" x="0 7.76 14.43">BLU</text>
<rect x="818" y="549.5" width="19" height="12" fill="#fff"/>
<text transform="translate(818.53 559) scale(0.82 1)" x="0 7.76 14.43">BLU</text>
<path class="sl" d="M867.54 330.1L873.24 320"/>
<text transform="translate(847.71 328.5) scale(0.82 1)" x="0 7.76 14.43">BLU</text>
<text transform="translate(852.36 340) scale(0.82 1)" x="0 7.76 14.43">BLK</text>
<rect class="b" x="849" y="354.6" width="25.8" height="37.5"/>
<path class="c" d="M865.6 364.2L865.6 385.2"/>
<path class="c" d="M868.7 364.2L868.7 385.2"/>
<text transform="translate(880.45 361.5) scale(0.82 1)" x="0 7.76 16.6">EGR</text>
<text transform="translate(880.45 372.6) scale(0.82 1)" x="0 7.76 16.6 23.27 31.02 39.32 48.16 52.11">SOLENOID</text>
<text transform="translate(880.45 383.7) scale(0.82 1)" x="0 7.76 15.51 23.81 32.11 40.4">VACUUM</text>
<text transform="translate(880.45 394.8) scale(0.82 1)" x="0 7.76 15.51 22.18 29.94">VALVE</text>
<text transform="translate(855.06 492.6) scale(0.82 1)" x="0 6.67">LT</text>
<path class="sl" d="M867.65 505.2L873.35 495.1"/>
<text transform="translate(845.6 503.6) scale(0.82 1)" x="0 8.84 17.14">GRN</text>
<text transform="translate(851.66 515) scale(0.82 1)" x="0 7.76 15.51">YEL</text>
<rect class="b" x="946.7" y="411.4" width="25.5" height="37.8"/>
<path class="c" d="M963.2 421.3L963.2 442"/>
<path class="c" d="M966.2 421.3L966.2 442"/>
<text transform="translate(874.93 419) scale(0.82 1)" x="0 7.76 15.51 23.27 31.02 39.87 48.16 55.92 63.13 67.07 74.82">EVAPORATIVE</text>
<text transform="translate(895.36 430.15) scale(0.82 1)" x="0 7.76 17.14 21.08 28.84 36.59 40.54 49.38">EMISSION</text>
<text transform="translate(909.07 441.3) scale(0.82 1)" x="0 7.76 16.05 24.35 33.19">PURGE</text>
<text transform="translate(911.74 452.45) scale(0.82 1)" x="0 7.76 15.51 22.18 29.94">VALVE</text>
<text transform="translate(893.12 463.6) scale(0.82 1)" x="0 7.76 16.6 23.27 31.02 39.32 48.16 52.11">SOLENOID</text>
<text transform="translate(953.36 515) scale(0.82 1)" x="0 6.67">LT</text>
<path class="sl" d="M965.85 528.2L971.55 518.1"/>
<text transform="translate(943.8 526.6) scale(0.82 1)" x="0 8.84 17.14">GRN</text>
<text transform="translate(949.07 538.5) scale(0.82 1)" x="0 8.3 16.05">RED</text>
<rect class="b" x="20.3" y="585.98" width="22.6" height="13.3"/>
<text transform="translate(22.6 596.38) scale(0.82 1)" x="0 7.76 15.41">B12</text>
<rect class="b" x="72.3" y="585.96" width="23.9" height="13.29"/>
<text transform="translate(75.25 596.35) scale(0.82 1)" x="0 7.76 15.41">A15</text>
<rect class="b" x="109.2" y="585.94" width="23.9" height="13.29"/>
<text transform="translate(112.15 596.32) scale(0.82 1)" x="0 7.76 15.41">B11</text>
<rect class="b" x="172.1" y="585.9" width="22.9" height="13.28"/>
<text transform="translate(174.55 596.29) scale(0.82 1)" x="0 7.76 15.41">A12</text>
<rect class="b" x="201.5" y="585.89" width="23.4" height="13.28"/>
<text transform="translate(207.33 596.27) scale(0.82 1)" x="0 7.76">A1</text>
<rect class="b" x="232.2" y="585.87" width="22.6" height="13.27"/>
<text transform="translate(237.63 596.25) scale(0.82 1)" x="0 7.76">B1</text>
<rect class="b" x="272.5" y="585.85" width="24" height="13.27"/>
<text transform="translate(275.5 596.22) scale(0.82 1)" x="0 7.76 15.41">A13</text>
<rect class="b" x="560" y="585.7" width="22.5" height="13.24"/>
<text transform="translate(562.25 596.04) scale(0.82 1)" x="0 7.76 15.41">B13</text>
<rect class="b" x="585" y="585.69" width="22.5" height="13.24"/>
<text transform="translate(587.25 596.03) scale(0.82 1)" x="0 7.76 15.41">B16</text>
<rect class="b" x="610" y="585.68" width="22.5" height="13.24"/>
<text transform="translate(615.38 596.01) scale(0.82 1)" x="0 7.76">B6</text>
<rect class="b" x="697.5" y="585.63" width="22.5" height="13.23"/>
<text transform="translate(702.88 595.96) scale(0.82 1)" x="0 7.76">B7</text>
<rect class="b" x="735" y="585.61" width="22.5" height="13.22"/>
<text transform="translate(740.38 595.93) scale(0.82 1)" x="0 7.76">B1</text>
<rect class="b" x="787.5" y="585.58" width="23.5" height="13.22"/>
<text transform="translate(790.25 595.9) scale(0.82 1)" x="0 7.76 15.41">B14</text>
<rect class="b" x="815" y="585.57" width="22.5" height="13.21"/>
<text transform="translate(817.25 595.88) scale(0.82 1)" x="0 7.76 15.41">B15</text>
<rect class="b" x="848.5" y="585.55" width="22.5" height="13.21"/>
<text transform="translate(853.88 595.86) scale(0.82 1)" x="0 7.76">B5</text>
<rect class="b" x="945.5" y="585.5" width="23.1" height="13.2"/>
<text transform="translate(951.18 595.8) scale(0.82 1)" x="0 7.76">A8</text>
<path class="b" d="M14.8 599.3L974.3 598.7L973.6 650.2L14.8 650.8Z"/>
<text transform="translate(409.51 625) scale(0.82 1)" x="0 7.76 16.05 24.9 28.84 37.13 53.06 61.36 70.2 78.5 85.7 94 102.84 117.68 127.07 135.91 144.2 152.5 159.17">ENGINECONTROLMODULE</text>
<rect class="b" x="38.5" y="650.77" width="23.4" height="15.48"/>
<text transform="translate(41.2 662.45) scale(0.82 1)" x="0 7.76 15.41">A19</text>
<rect class="b" x="79.3" y="650.74" width="23.4" height="15.46"/>
<text transform="translate(82 662.41) scale(0.82 1)" x="0 7.76 15.41">A20</text>
<rect class="b" x="123.5" y="650.72" width="23.4" height="15.44"/>
<text transform="translate(129.33 662.36) scale(0.82 1)" x="0 7.76">A6</text>
<rect class="b" x="158.6" y="650.69" width="22.6" height="15.43"/>
<text transform="translate(160.9 662.32) scale(0.82 1)" x="0 7.76 15.41">A24</text>
<rect class="b" x="189" y="650.67" width="23.4" height="15.42"/>
<text transform="translate(191.7 662.29) scale(0.82 1)" x="0 7.76 15.41">A17</text>
<rect class="b" x="228.8" y="650.65" width="23.4" height="15.4"/>
<text transform="translate(231.5 662.25) scale(0.82 1)" x="0 7.76 15.41">B10</text>
<rect class="b" x="270" y="650.62" width="23.5" height="15.38"/>
<text transform="translate(272.75 662.21) scale(0.82 1)" x="0 7.76 15.41">A18</text>
<rect class="b" x="316.5" y="650.59" width="23.5" height="15.36"/>
<text transform="translate(322.38 662.16) scale(0.82 1)" x="0 7.76">A2</text>
<rect class="b" x="367.5" y="650.56" width="24" height="15.34"/>
<text transform="translate(370.5 662.1) scale(0.82 1)" x="0 7.76 15.41">A22</text>
<rect class="b" x="404" y="650.54" width="23.5" height="15.33"/>
<text transform="translate(409.88 662.07) scale(0.82 1)" x="0 7.76">B2</text>
<rect class="b" x="436.5" y="650.52" width="24.5" height="15.31"/>
<text transform="translate(439.75 662.03) scale(0.82 1)" x="0 7.76 15.41">A23</text>
<rect class="b" x="465" y="650.5" width="23.5" height="15.3"/>
<text transform="translate(467.75 662) scale(0.82 1)" x="0 7.76 15.41">A21</text>
<rect class="b" x="522" y="650.47" width="23.7" height="15.28"/>
<text transform="translate(524.85 661.94) scale(0.82 1)" x="0 7.76 15.41">A14</text>
<rect class="b" x="562.5" y="650.44" width="23.5" height="15.26"/>
<text transform="translate(568.38 661.9) scale(0.82 1)" x="0 7.76">A4</text>
<rect class="b" x="601.5" y="650.42" width="23.5" height="15.24"/>
<text transform="translate(604.25 661.86) scale(0.82 1)" x="0 7.76 15.41">A16</text>
<rect class="b" x="676" y="650.37" width="23" height="15.21"/>
<text transform="translate(681.63 661.78) scale(0.82 1)" x="0 7.76">A3</text>
<rect class="b" x="703.5" y="650.35" width="22.5" height="15.2"/>
<text transform="translate(708.88 661.76) scale(0.82 1)" x="0 7.76">A7</text>
<rect class="b" x="731" y="650.34" width="22.5" height="15.19"/>
<text transform="translate(736.38 661.73) scale(0.82 1)" x="0 7.76">A9</text>
<rect class="b" x="773.5" y="650.31" width="23" height="15.17"/>
<text transform="translate(776 661.68) scale(0.82 1)" x="0 7.76 15.41">A11</text>
<rect class="b" x="820" y="650.28" width="22.5" height="15.15"/>
<text transform="translate(825.38 661.63) scale(0.82 1)" x="0 7.76">B8</text>
<rect class="b" x="940.1" y="650.21" width="22.9" height="15.1"/>
<text transform="translate(942.55 661.51) scale(0.82 1)" x="0 7.76 15.41">B17</text>
<path class="sl" d="M56.32 750.2L62.02 740.1"/>
<text transform="translate(36.93 748.6) scale(0.82 1)" x="0 7.76 15.51">YEL</text>
<text transform="translate(41.13 760) scale(0.82 1)" x="0 7.76 14.43">BLU</text>
<rect class="b" x="16.6" y="837.8" width="45.6" height="31.5"/>
<path class="t2" d="M29.1 846L29.1 846.5L33.1 846.5L33.1 850L25 850L25 853.4L33.1 853.4L33.1 856.8L25 856.8L25 860.2L29.1 860.2L29.1 868.4"/>
<circle cx="29.1" cy="869" r="2.6"/>
<path class="t" d="M23.8 871.7L34.4 871.7"/>
<path class="c" d="M26 873.7L32.2 873.7"/>
<path class="c" d="M27.8 875.9L30.4 875.9"/>
<path class="t2" d="M44.5 860.6L54.4 845.9"/>
<path class="t" d="M47.2 851.3L52 851.3"/>
<path class="c" d="M44.5 854.6L55 854.6"/>
<path d="M44.3 860.9l1.2 -3.6 2 1.4z"/>
<text transform="translate(67.35 845.1) scale(0.82 1)" x="0 8.3 16.05 23.81 31.01 38.77">HEATED</text>
<text transform="translate(67.35 856.2) scale(0.82 1)" x="0 8.84 16.6 24.35 33.2 40.95">OXYGEN</text>
<text transform="translate(67.35 867.3) scale(0.82 1)" x="0 7.76 15.51 23.81 31.57 40.41">SENSOR</text>
<text transform="translate(41.16 894.4) scale(0.82 1)" x="0 7.76 14.43">BLK</text>
<circle cx="49.9" cy="976.4" r="2.6"/>
<path class="t" d="M44.6 979.1L55.2 979.1"/>
<path class="c" d="M46.8 981.1L53 981.1"/>
<path class="c" d="M48.6 983.3L51.2 983.3"/>
<path class="sl" d="M96.45 716.6L102.15 706.5"/>
<text transform="translate(78.4 715) scale(0.82 1)" x="0 7.76 11.7">VIO</text>
<text transform="translate(81.02 726) scale(0.82 1)" x="0 8.84 17.14">GRN</text>
<text transform="translate(65.45 784.4) scale(0.82 1)" x="0 8.3 16.05 23.26 39.19 45.86 49.8 58.09">DATALINK</text>
<text transform="translate(62.66 795.7) scale(0.82 1)" x="0 8.3 17.14 25.44 33.73 41.49 49.79 56.99 65.83">CONNECTOR</text>
<path class="sl" d="M142.14 752.6L147.84 742.5"/>
<text transform="translate(122.31 751) scale(0.82 1)" x="0 7.76 14.43">BLU</text>
<text transform="translate(125.5 761.6) scale(0.82 1)" x="0 8.84 17.14">ORG</text>
<rect class="b" x="118.3" y="901.5" width="35.3" height="38.9"/>
<circle cx="135.6" cy="909.9" r="2"/>
<path class="a" d="M135.6 909.9L123.1 931.5"/>
<circle cx="123.1" cy="931.5" r="2"/>
<circle cx="126.2" cy="926.4" r="1.4"/>
<circle cx="147.6" cy="932" r="2"/>
<circle cx="147.6" cy="940.6" r="2.6"/>
<path class="t" d="M142.3 943.3L152.9 943.3"/>
<path class="c" d="M144.5 945.3L150.7 945.3"/>
<path class="c" d="M146.3 947.5L148.9 947.5"/>
<text transform="translate(78.89 908.8) scale(0.82 1)" x="0 7.76 16.6 27.07 34.82">POWER</text>
<text transform="translate(65.17 919.95) scale(0.82 1)" x="0 7.76 14.96 22.72 30.47 38.77 42.71 51.01">STEERING</text>
<text transform="translate(62.04 931.1) scale(0.82 1)" x="0 7.76 16.05 23.81 31.57 39.32 47.62 55.91">PRESSURE</text>
<text transform="translate(76.56 942.25) scale(0.82 1)" x="0 7.76 18.23 22.17 29.37 37.67">SWITCH</text>
<path class="sl" d="M176.83 821.4L182.53 811.3"/>
<text transform="translate(155.22 819.8) scale(0.82 1)" x="0 8.84 17.14">GRY</text>
<text transform="translate(160.86 830.8) scale(0.82 1)" x="0 7.76 15.51">YEL</text>
<path class="sl" d="M208.21 705.1L213.91 695"/>
<text transform="translate(187.04 703.5) scale(0.82 1)" x="0 8.3 16.05">RED</text>
<text transform="translate(192.36 715) scale(0.82 1)" x="0 7.76 14.43">BLK</text>
<rect class="b" x="190.5" y="890.2" width="20.1" height="37.8"/>
<path class="t2" d="M200.4 897.4L203.1 898.79L197.7 901.56L203.1 904.34L197.7 907.11L203.1 909.89L197.7 912.66L203.1 915.44L197.7 918.21L200.4 919.6"/>
<path class="t" d="M196.2 915.7L203.07 905.19"/>
<path d="M205.8 901L204.11 905.87L202.02 904.5z"/>
<circle cx="200.8" cy="1064.6" r="2.5"/>
<text transform="translate(214.75 896.7) scale(0.82 1)" x="0 7.76 11.7">AIR</text>
<text transform="translate(214.75 908.2) scale(0.82 1)" x="0 7.21 14.96 24.34">TEMP</text>
<text transform="translate(214.75 919.7) scale(0.82 1)" x="0 7.76 15.51 23.81 31.57 40.41">SENSOR</text>
<path class="sl" d="M246.72 685.8L252.42 675.7"/>
<text transform="translate(227.33 684.2) scale(0.82 1)" x="0 7.76 14.43">BLK</text>
<text transform="translate(231.63 695.4) scale(0.82 1)" x="0 7.76 14.43">BLU</text>
<circle cx="240.5" cy="726.8" r="2.6"/>
<path class="t" d="M235.2 729.5L245.8 729.5"/>
<path class="c" d="M237.4 731.5L243.6 731.5"/>
<path class="c" d="M239.2 733.7L241.8 733.7"/>
<path class="sl" d="M289.71 709.2L295.41 699.1"/>
<text transform="translate(268.54 707.6) scale(0.82 1)" x="0 8.3 16.05">RED</text>
<text transform="translate(273.86 719) scale(0.82 1)" x="0 7.76 15.51">YEL</text>
<rect class="b" x="271.5" y="887.5" width="21" height="37.5"/>
<path class="t2" d="M282.2 894.7L284.9 896.07L279.5 898.81L284.9 901.54L279.5 904.28L284.9 907.02L279.5 909.76L284.9 912.49L279.5 915.23L282.2 916.6"/>
<path class="t" d="M278 912.7L284.83 902.46"/>
<path d="M287.6 898.3L285.87 903.15L283.79 901.77z"/>
<text transform="translate(294.45 892.5) scale(0.82 1)" x="0 7.76 16.05 24.9 28.84 37.13">ENGINE</text>
<text transform="translate(294.45 903.6) scale(0.82 1)" x="0 8.3 17.14 25.98 32.65 40.41 48.7">COOLANT</text>
<text transform="translate(294.45 914.7) scale(0.82 1)" x="0 7.21 14.96 24.34">TEMP</text>
<text transform="translate(294.45 925.8) scale(0.82 1)" x="0 7.76 15.51 23.81 31.57 40.41">SENSOR</text>
<path class="sl" d="M289.63 948.2L295.33 938.1"/>
<text transform="translate(268.02 946.6) scale(0.82 1)" x="0 8.84 17.14">GRY</text>
<text transform="translate(273.56 958.5) scale(0.82 1)" x="0 7.76 15.51">YEL</text>
<circle cx="282.4" cy="1064.6" r="2.5"/>
<path class="sl" d="M334.32 714.2L340.02 704.1"/>
<text transform="translate(314.93 712.6) scale(0.82 1)" x="0 7.76 15.51">YEL</text>
<text transform="translate(319.36 724) scale(0.82 1)" x="0 7.76 14.43">BLK</text>
<text transform="translate(322.37 785) scale(0.82 1)" x="0 7.21">TO</text>
<path class="sl" d="M325.13 797.8L330.83 787.7"/>
<text transform="translate(317.57 796.2) scale(0.82 1)" x="0 18.24">AC</text>
<text transform="translate(308.93 807.6) scale(0.82 1)" x="0 7.76 15.51 23.27 30.47 38.23">SYSTEM</text>
<path class="sl" d="M387.13 702.6L392.83 692.5"/>
<text transform="translate(365.52 701) scale(0.82 1)" x="0 8.84 17.14">GRY</text>
<text transform="translate(369.82 711.9) scale(0.82 1)" x="0 8.84 17.14">GRN</text>
<rect class="b" x="365.4" y="879" width="60.2" height="48.2"/>
<text transform="translate(371.29 890.2) scale(0.82 1)" x="0 9.38 17.14 25.44 29.38 36.58 45.43 52.1">MANIFOLD</text>
<text transform="translate(370.61 901.4) scale(0.82 1)" x="0 7.76 15.51 23.27 32.11 38.78 47.08 54.28">ABSOLUTE</text>
<text transform="translate(369.94 912.6) scale(0.82 1)" x="0 7.76 16.05 23.81 31.57 39.32 47.62 55.91">PRESSURE</text>
<text transform="translate(376.08 923.8) scale(0.82 1)" x="0 7.76 15.51 23.81 31.57 40.41">SENSOR</text>
<path class="sl" d="M402.23 952L407.93 941.9"/>
<text transform="translate(380.62 950.4) scale(0.82 1)" x="0 8.84 17.14">GRY</text>
<text transform="translate(386.16 961.6) scale(0.82 1)" x="0 7.76 15.51">YEL</text>
<circle cx="395" cy="1064.6" r="2.5"/>
<path class="sl" d="M421.82 695.6L427.52 685.5"/>
<text transform="translate(402.43 694) scale(0.82 1)" x="0 7.76 14.43">BLK</text>
<text transform="translate(405.62 705.2) scale(0.82 1)" x="0 8.84 17.14">GRN</text>
<circle cx="415.5" cy="723.5" r="2.6"/>
<path class="t" d="M410.2 726.2L420.8 726.2"/>
<path class="c" d="M412.4 728.2L418.6 728.2"/>
<path class="c" d="M414.2 730.4L416.8 730.4"/>
<circle cx="449.4" cy="771.8" r="2.5"/>
<path class="sl" d="M456.63 820.4L462.33 810.3"/>
<text transform="translate(435.02 818.8) scale(0.82 1)" x="0 8.84 17.14">GRY</text>
<text transform="translate(439.87 830) scale(0.82 1)" x="0 8.3 16.05">RED</text>
<rect class="b" x="439" y="877.6" width="109.8" height="45.7"/>
<circle cx="449.4" cy="884" r="1.9"/>
<path class="t2" d="M449.4 884L496.2 884L496.2 891"/>
<circle cx="496.2" cy="891" r="1.9"/>
<path class="t2" d="M449.4 893L452.1 894.71L446.7 898.12L452.1 901.54L446.7 904.96L452.1 908.37L446.7 911.79L449.4 913.5"/>
<circle cx="449.2" cy="1064.6" r="2.5"/>
<path d="M450.6 901.7l4.6 -2.3v4.6z"/>
<path class="t2" d="M454 901.7L476.6 901.7"/>
<circle cx="467" cy="901.7" r="1.9"/>
<text transform="translate(466.84 713) scale(0.82 1)" x="0 8.84 17.14">GRY</text>
<path class="sl" d="M540.34 711.6L546.04 701.5"/>
<text transform="translate(520.51 710) scale(0.82 1)" x="0 7.76 14.43">BLU</text>
<text transform="translate(523.8 721.2) scale(0.82 1)" x="0 10.47 18.77">WHT</text>
<circle cx="508.2" cy="912.6" r="1.9"/>
<path class="a" d="M508.2 912.6L520.8 891"/>
<circle cx="520.8" cy="891" r="1.9"/>
<circle cx="517.9" cy="896.2" r="1.3"/>
<text transform="translate(551.95 884.6) scale(0.82 1)" x="0 7.21 15.5 23.8 32.64 39.85 47.05 53.72">THROTTLE</text>
<text transform="translate(551.95 895.8) scale(0.82 1)" x="0 7.76 16.6 24.35 28.3 35.5 39.44 48.29">POSITION</text>
<text transform="translate(551.95 907) scale(0.82 1)" x="0 7.76 15.51 23.81 31.57 40.41">SENSOR</text>
<path class="sl" d="M580.12 740.6L585.82 730.5"/>
<text transform="translate(560.73 739) scale(0.82 1)" x="0 7.76 14.43">BLK</text>
<text transform="translate(564.02 750.2) scale(0.82 1)" x="0 8.84 17.14">GRN</text>
<circle cx="573.6" cy="764.2" r="2.6"/>
<path class="t" d="M568.3 766.9L578.9 766.9"/>
<path class="c" d="M570.5 768.9L576.7 768.9"/>
<path class="c" d="M572.3 771.1L574.9 771.1"/>
<path class="sl" d="M620.21 705.6L625.91 695.5"/>
<text transform="translate(599.04 704) scale(0.82 1)" x="0 8.3 16.05">RED</text>
<text transform="translate(603.22 715.2) scale(0.82 1)" x="0 8.84 17.14">GRN</text>
<rect class="b" x="602.5" y="985.3" width="19.8" height="37.5"/>
<path class="t2" d="M612.4 992.6L615.1 993.97L609.7 996.71L615.1 999.44L609.7 1002.18L615.1 1004.92L609.7 1007.66L615.1 1010.39L609.7 1013.13L612.4 1014.5"/>
<path class="t" d="M608.2 1010.6L615.03 1000.36"/>
<path d="M617.8 996.2L616.07 1001.05L613.99 999.67z"/>
<text transform="translate(627.95 992.6) scale(0.82 1)" x="0 7.76 16.6">EGR</text>
<text transform="translate(627.95 1003.8) scale(0.82 1)" x="0 7.21 14.96 24.34">TEMP</text>
<text transform="translate(627.95 1015) scale(0.82 1)" x="0 7.76 15.51 23.81 31.57 40.41">SENSOR</text>
<path class="sl" d="M693.74 690.6L699.44 680.5"/>
<text transform="translate(673.91 689) scale(0.82 1)" x="0 7.76 14.43">BLU</text>
<text transform="translate(678.76 700.2) scale(0.82 1)" x="0 7.76 15.51">YEL</text>
<circle cx="687.5" cy="728.2" r="2.5"/>
<text transform="translate(623.82 780) scale(0.82 1)" x="0 8.3 12.24 20 28.84 37.13 45.98 53.73 57.67">DIAGNOSIS</text>
<text transform="translate(631.8 791.3) scale(0.82 1)" x="0 7.76 18.23 22.17 29.37 37.67">SWITCH</text>
<text transform="translate(626.33 802.6) scale(0.82 1)" x="0 7.21 14.96 23.26 32.64 36.58 44.88 52.64">TERMINAL</text>
<path class="sl" d="M721.24 700.2L726.94 690.1"/>
<text transform="translate(701.41 698.6) scale(0.82 1)" x="0 7.76 14.43">BLU</text>
<text transform="translate(705.47 710) scale(0.82 1)" x="0 8.3 16.05">RED</text>
<text transform="translate(731.43 721.2) scale(0.82 1)" x="0 7.76 11.7">VIO</text>
<path class="t" d="M681 755q0.5 3.6 4 3.6h23.5q2.6 0 3.8 3.3q1.2 -3.3 3.8 -3.3h23.5q3.5 0 4 -3.6"/>
<text transform="translate(692.48 775) scale(0.82 1)" x="0 9.38 18.23 26.52 30.46 37.67 46.51">MONITOR</text>
<text transform="translate(692.02 786.6) scale(0.82 1)" x="0 8.3 17.14 25.44 33.19 39.86 47.62">COUPLER</text>
<path class="sl" d="M792.67 728.2L798.37 718.1"/>
<text transform="translate(770.18 726.6) scale(0.82 1)" x="0 10.47 18.77">WHT</text>
<text transform="translate(776.36 738.6) scale(0.82 1)" x="0 7.76 15.51">YEL</text>
<text transform="translate(821.47 723.6) scale(0.82 1)" x="0 8.3 16.05">RED</text>
<text transform="translate(942.86 716.6) scale(0.82 1)" x="0 7.76 15.51">YEL</text>
<rect class="b" x="874.7" y="811.2" width="37.8" height="25"/>
<path class="c" d="M884.8 816L905.8 816"/>
<path class="c" d="M884.8 818.8L905.8 818.8"/>
<text transform="translate(883.98 848.6) scale(0.82 1)" x="0 7.21 15.5 23.26">FUEL</text>
<text transform="translate(872.56 859.6) scale(0.82 1)" x="0 3.94 12.24 18.36 26.11 34.41 41.62 50.46">INJECTOR</text>
<path class="sl" d="M985.94 829.2L991.64 819.1"/>
<text transform="translate(966.11 827.6) scale(0.82 1)" x="0 7.76 14.43">BLU</text>
<text transform="translate(971.36 839) scale(0.82 1)" x="0 7.76 14.43">BLK</text>
<rect class="b" x="656.5" y="916.5" width="95" height="38.5"/>
<text transform="translate(676.29 931.6) scale(0.82 1)" x="0 7.76 16.05 23.26 32.1 41.48 49.24 56.45 60.39">AUTOMATIC</text>
<text transform="translate(667.87 942.6) scale(0.82 1)" x="0 7.21 15.5 23.26 31.56 39.31 48.69 52.64 60.39 68.15 72.09 80.93">TRANSMISSION</text>
<text transform="translate(823.6 884) scale(0.82 1)" x="0 10.47 18.77">WHT</text>
<rect class="b" x="886.7" y="916.4" width="106.6" height="37.9"/>
<circle cx="906.9" cy="924.8" r="2"/>
<path class="a" d="M906.9 924.8L894.9 945.7"/>
<circle cx="894.9" cy="945.7" r="2"/>
<circle cx="918.9" cy="945.7" r="2"/>
<path class="d" d="M902.2 935.3L977.8 935.3"/>
<path class="sl" d="M927.07 1022.4L932.77 1012.3"/>
<text transform="translate(904.58 1020.8) scale(0.82 1)" x="0 10.47 18.77">WHT</text>
<text transform="translate(909.87 1032.4) scale(0.82 1)" x="0 8.3 16.05">RED</text>
<text transform="translate(842.77 923) scale(0.82 1)" x="0 7.21 16.05 24.34 33.19 41.48">TORQUE</text>
<text transform="translate(823.7 934.25) scale(0.82 1)" x="0 8.3 17.14 25.44 33.19 40.95 49.24 56.45 64.21">CONVERTER</text>
<text transform="translate(844.56 945.5) scale(0.82 1)" x="0 8.3 14.97 23.26 30.47 38.77">CLUTCH</text>
<text transform="translate(851.8 956.75) scale(0.82 1)" x="0 8.3 16.05 22.72 30.48">RELAY</text>
<rect class="b" x="902.1" y="1046" width="35.5" height="37.9"/>
<circle cx="919.6" cy="1054.4" r="2"/>
<path class="a" d="M919.6 1054.4L906.9 1075.3"/>
<circle cx="906.9" cy="1075.3" r="2"/>
<circle cx="910" cy="1070.4" r="1.4"/>
<circle cx="931.6" cy="1075.3" r="2"/>
<text transform="translate(941.15 1052) scale(0.82 1)" x="0 7.76 14.96 23.8">STOP</text>
<text transform="translate(941.15 1062.85) scale(0.82 1)" x="0 6.67 14.43 23.81">LAMP</text>
<text transform="translate(941.15 1073.7) scale(0.82 1)" x="0 7.76 18.23 22.17 29.37 37.67">SWITCH</text>
<rect x="779.5" y="1100" width="56" height="12" fill="#fff"/>
<path class="sl" d="M803.8 1111.4L809.5 1101.3"/>
<text transform="translate(784.41 1109.8) scale(0.82 1)" x="0 7.76 14.43 32.67 43.14 51.44">BLKWHT</text>
</svg>
</body></html>
